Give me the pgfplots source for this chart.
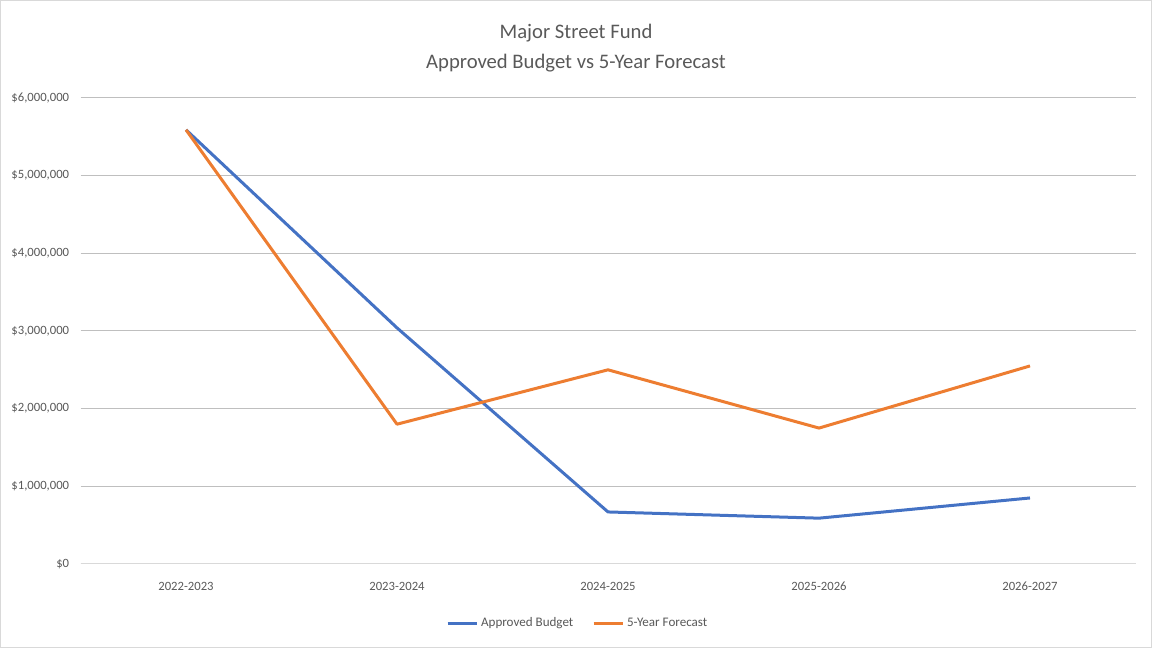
\documentclass[border=0pt]{standalone}
\usepackage{pgfplots}
\pgfplotsset{compat=1.18}
\usepackage{fontspec}
\setmainfont{Carlito}
\definecolor{txt}{HTML}{595959}
\definecolor{grid}{HTML}{D9D9D9}
\definecolor{cblue}{HTML}{4472C4}
\definecolor{corange}{HTML}{ED7D31}
\begin{document}
\begin{tikzpicture}
\path[draw=grid, line width=0.75pt] (0.4pt,0.4pt) rectangle (863.6pt,485.6pt);
\node[font=\fontsize{15.5}{22}\selectfont, text=txt, align=center] at (432pt,450pt)
  {Major Street Fund\\Approved Budget vs 5-Year Forecast};
\begin{axis}[
    at={(60.4pt,63pt)}, anchor=south west,
    scale only axis,
    width=791.2pt, height=349.5pt,
    xmin=-0.5, xmax=4.5,
    ymin=0, ymax=6000000,
    xtick={0,1,2,3,4},
    xticklabels={2022-2023,2023-2024,2024-2025,2025-2026,2026-2027},
    ytick={0,1000000,2000000,3000000,4000000,5000000,6000000},
    yticklabels={{\$0},{\$1,000,000},{\$2,000,000},{\$3,000,000},{\$4,000,000},{\$5,000,000},{\$6,000,000}},
    scaled y ticks=false,
    xmajorgrids=false,
    ymajorgrids=true,
    major grid style={grid, line width=0.75pt},
    axis x line*=bottom,
    axis y line*=left,
    x axis line style={grid, line width=0.75pt, -},
    y axis line style={draw=none},
    tick style={draw=none},
    tick label style={font=\fontsize{9.5}{11}\selectfont, text=txt},
    xticklabel style={yshift=-10pt},
    yticklabel style={xshift=-5pt},
    legend columns=2,
    legend style={at={(0.4716,-0.127)}, anchor=center, draw=none,
      font=\fontsize{9.8}{11}\selectfont, text=txt,
      /tikz/every even column/.append style={column sep=12pt}},
    legend image code/.code={\draw[#1, line width=2.25pt] (0pt,0pt) -- (22pt,0pt);},
    clip=false,
]
\addplot[cblue, line width=2.25pt, line join=round] coordinates {
  (0,5590000) (1,3040000) (2,670000) (3,590000) (4,850000)};
\addplot[corange, line width=2.25pt, line join=round] coordinates {
  (0,5590000) (1,1800000) (2,2500000) (3,1750000) (4,2550000)};
\legend{Approved Budget,5-Year Forecast}
\end{axis}
\end{tikzpicture}
\end{document}
